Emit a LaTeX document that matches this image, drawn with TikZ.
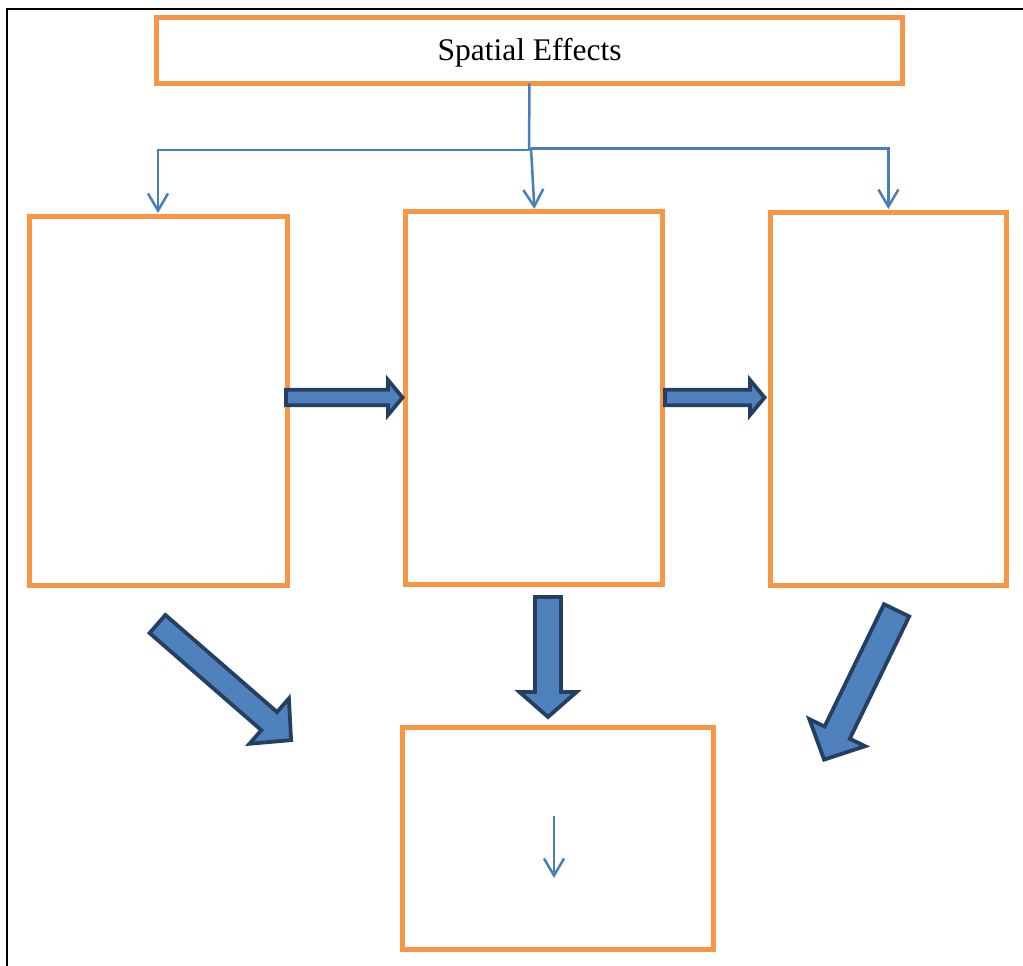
\documentclass[tikz,border=0pt]{standalone}
\usepackage{fontspec}
\setmainfont{Liberation Serif}
\usetikzlibrary{arrows.meta}
\definecolor{boxorange}{HTML}{F79646}
\definecolor{connblue}{HTML}{4A7EBB}
\definecolor{arrowfill}{HTML}{4F81BD}
\definecolor{arrowdark}{HTML}{243F60}
\tikzset{
  obox/.style={draw=boxorange, line width=5pt, fill=white, inner sep=0pt, outer sep=0pt, rectangle},
  conn/.style={draw=connblue, line width=2.5pt, -{Straight Barb[length=17pt,width=20pt,line width=2.5pt]}},
  connplain/.style={draw=connblue, line width=2.5pt},
  barrow/.style={draw=arrowdark, fill=arrowfill, line width=3.8pt, line join=miter},
}
% #1 tail coordinate, #2 angle, #3 length, #4 shaft width, #5 head width, #6 head length
\newcommand{\BArrow}[6]{%
  \draw[barrow, shift={#1}, rotate=#2]
    (0,{-#4/2}) -- ({#3-#6},{-#4/2}) -- ({#3-#6},{-#5/2}) -- (#3,0)
    -- ({#3-#6},{#5/2}) -- ({#3-#6},{#4/2}) -- (0,{#4/2}) -- cycle;}
\begin{document}
\begin{tikzpicture}[x=1pt,y=-1pt]
\useasboundingbox (0,0) rectangle (1023,966);
\fill[white] (0,0) rectangle (1023,966);
% frame
\draw[line width=2pt, black] (6.7,966) -- (6.7,9) -- (1023,9);

% boxes
\node[obox, minimum width=746pt, minimum height=65.7pt, text height=20.5pt, text depth=0pt,
      font=\fontsize{31.5}{37}\selectfont] (top) at (529.5,50.65) {Spatial Effects};
\node[obox, minimum width=258pt, minimum height=369pt] (left) at (158,400.5) {};
\node[obox, minimum width=257pt, minimum height=373pt] (mid) at (534.4,398.4) {};
\node[obox, minimum width=236pt, minimum height=373pt] (right) at (888.4,398.5) {};
\node[obox, minimum width=310.5pt, minimum height=222pt] (bottom) at (557.75,838.9) {};

% thin connectors
\coordinate (jl) at (529,150);
\coordinate (jr) at (531,148.3);
\draw[connplain] (top.south) -- (jl);
\draw[conn] (jl) -| ([yshift=3pt]left.north);
\draw[connplain] (jl) -- (jr);
\draw[conn] (jr) -| ([yshift=3pt]right.north);
\draw[conn] (jr) -- ([yshift=3pt]mid.north);

% inner arrow in bottom box
\coordinate (ia) at (554,816);
\coordinate (ib) at (554,878);
\draw[conn] (ia) -- (ib);

% block arrows
\coordinate (t1) at (286,397.5);
\coordinate (t2) at (665,397.5);
\coordinate (t3) at (548,597);
\coordinate (t4) at (157.5,624);
\coordinate (t5) at (896.6,610.3);
\BArrow{(t1)}{0}{116.5}{15.5}{35}{14.5}
\BArrow{(t2)}{0}{99.5}{15.5}{35}{14.5}
\BArrow{(t3)}{-90}{120}{26}{57}{25}
\BArrow{(t4)}{-41}{177}{24}{60}{29}
\BArrow{(t5)}{-115.9}{166}{28}{62}{30}
\end{tikzpicture}
\end{document}
